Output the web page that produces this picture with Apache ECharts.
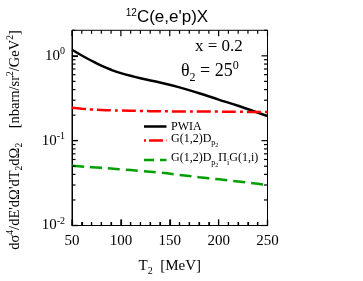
<!DOCTYPE html>
<html><head><meta charset="utf-8">
<script src="https://cdn.jsdelivr.net/npm/echarts@6/dist/echarts.min.js"></script>
<style>html,body{margin:0;padding:0;background:#fff}#c{width:363px;height:281px}</style>
</head><body><div id="c"></div>
<script>
const T = [50, 60, 70, 80, 90, 100, 120, 140, 160, 180, 200, 220, 240, 250];
const pwia = [1.18, 1.01, 0.875, 0.765, 0.685, 0.625, 0.545, 0.485, 0.425, 0.362, 0.305, 0.258, 0.214, 0.195];
const gD = [0.245, 0.238, 0.233, 0.23, 0.228, 0.227, 0.224, 0.222, 0.221, 0.22, 0.22, 0.219, 0.218, 0.218];
const gDPi = [0.0505, 0.0496, 0.0487, 0.0478, 0.0469, 0.046, 0.044, 0.042, 0.0395, 0.037, 0.035, 0.033, 0.031, 0.030];
const xMajor = [50, 100, 150, 200, 250];
const xMinor = [60,70,80,90,110,120,130,140,160,170,180,190,210,220,230,240];
const yMajor = [0.01, 0.1, 1];
const yMinor = [0.02,0.03,0.04,0.05,0.06,0.07,0.08,0.09,0.2,0.3,0.4,0.5,0.6,0.7,0.8,0.9,2];
const legendNames = ['PWIA', 'G(1,2)D_p2', 'G(1,2)D_p2 Π_i G(1,i)'];

const serif = 'Liberation Serif';
const chart = echarts.init(document.getElementById('c'), null, {renderer:'canvas'});
const colors = ['#000000', '#ff0000', '#00a000'];
const dashes = [null, [2,3,14,3], [10,6]];
const legY = [126.5, 140.5, 160];
const legText = [
  '{t|PWIA}',
  '{t|G(1,2)D}{sb|p}{ss|2}',
  '{t|G(1,2)D}{sb|p}{ss|2}{t|Π}{sb|i}{t|G(1,i)}'
];
const legRich = {
  t:{fontFamily:serif, fontSize:12, fill:'#000', lineHeight:14},
  sb:{fontFamily:serif, fontSize:8, fill:'#000', padding:[9,0,0,0], lineHeight:14},
  ss:{fontFamily:serif, fontSize:6, fill:'#000', padding:[14,0,0,0], lineHeight:14}
};

chart.setOption({
  animation:false,
  backgroundColor:'#fff',
  title:{text:'{s|12}{t|C(e,e\'p)X}', left:162, top:2, textAlign:'center',
    textStyle:{fontWeight:'normal', rich:{s:{fontFamily:'Liberation Sans', fontSize:10, fontWeight:'normal', padding:[0,0,7,0], lineHeight:20, color:'#000'},
                     t:{fontFamily:'Liberation Sans', fontSize:17, fontWeight:'normal', lineHeight:20, color:'#000'}}}},
  grid:{left:72, right:95.5, top:30.3, bottom:53.3, show:true, borderColor:'#000', borderWidth:1, backgroundColor:'transparent'},
  xAxis:{type:'value', min:50, max:250, interval:50, splitLine:{show:false},
    axisLine:{show:true, lineStyle:{color:'#000', width:1}},
    axisTick:{show:true, inside:true, length:6, lineStyle:{color:'#000', width:1.2}},
    minorTick:{show:true, splitNumber:5, length:3.5, lineStyle:{color:'#000', width:1.2}},
    axisLabel:{show:true, fontFamily:serif, fontSize:15, color:'#000', margin:8},
    name:'{t|T}{s|2}{t|  [MeV]}', nameLocation:'middle', nameGap:32,
    nameTextStyle:{rich:{t:{fontFamily:serif, fontSize:15, color:'#000', lineHeight:18},
                         s:{fontFamily:serif, fontSize:10, color:'#000', padding:[9,0,0,0], lineHeight:18}}}},
  yAxis:{type:'log', min:0.01, max:2, logBase:10, splitLine:{show:false},
    axisLine:{show:true, lineStyle:{color:'#000', width:1}},
    axisTick:{show:true, inside:true, length:6, customValues:yMajor, lineStyle:{color:'#000', width:1.2}},
    axisLabel:{show:true, margin:7, formatter:function(v){
        const e = Math.log10(v);
        if (Math.abs(e - Math.round(e)) > 1e-6) return '';
        return '{b|10}{s|' + Math.round(e) + '}';
      },
      rich:{b:{fontFamily:serif, fontSize:15, color:'#000', lineHeight:18},
            s:{fontFamily:serif, fontSize:10, color:'#000', padding:[0,0,9,0], lineHeight:18}}}},
  series:[
    {name:legendNames[0], type:'line', symbol:'none', smooth:0.4, data:T.map((t,i)=>[t,pwia[i]]),
      lineStyle:{color:colors[0], width:2.5}},
    {name:legendNames[1], type:'line', symbol:'none', smooth:0.4, data:T.map((t,i)=>[t,gD[i]]),
      lineStyle:{color:colors[1], width:2.5, type:[14,4,3,4]}},
    {name:legendNames[2], type:'line', symbol:'none', smooth:0.4, data:T.map((t,i)=>[t,gDPi[i]]),
      lineStyle:{color:colors[2], width:2.5, type:[12,6]}}
  ]
});

// ticks on all four sides, placed through the chart's own scales
const px = v => chart.convertToPixel({xAxisIndex:0}, v);
const py = v => chart.convertToPixel({yAxisIndex:0}, v);
const xL = px(50), xR = px(250), yB = py(0.01), yT = py(2);
const graphics = [];
const tick = (x1,y1,x2,y2) => graphics.push({type:'line', z:50, shape:{x1,y1,x2,y2}, style:{stroke:'#000', lineWidth:1.2}});
xMajor.forEach(v => { const x = px(v); tick(x, yB, x, yB-6); tick(x, yT, x, yT+6); });
xMinor.forEach(v => { const x = px(v); tick(x, yB, x, yB-3.5); tick(x, yT, x, yT+3.5); });
yMajor.forEach(v => { const y = py(v); tick(xL, y, xL+6, y); tick(xR, y, xR-6, y); });
yMinor.forEach(v => { const y = py(v); tick(xL, y, xL+3.5, y); tick(xR, y, xR-3.5, y); });

legendNames.forEach((n, i) => {
  graphics.push({type:'line', shape:{x1:144, y1:legY[i], x2:166.5, y2:legY[i]},
    style:{stroke:colors[i], lineWidth:2.5, lineDash:dashes[i]}});
  graphics.push({type:'text', x:171, y:legY[i] - (i===0 ? 0 : 2), style:{text:legText[i], rich:legRich, verticalAlign:'middle'}});
});
graphics.push({type:'text', x:195, y:38, style:{text:'x = 0.2', font:'17px "Liberation Serif"', fill:'#000'}});
graphics.push({type:'text', x:181, y:60, style:{text:'{t|θ}{s|2}{t| = 25}{p|0}',
  rich:{t:{fontFamily:serif, fontSize:18, fill:'#000', lineHeight:22},
        s:{fontFamily:serif, fontSize:12, fill:'#000', padding:[13,0,0,0], lineHeight:22},
        p:{fontFamily:serif, fontSize:12, fill:'#000', padding:[0,0,11,0], lineHeight:22}}}});
graphics.push({type:'text', x:15, y:140, rotation:Math.PI/2,
  style:{text:'{t|dσ}{p|4}{t|/dE\'dΩ\'dT}{s|2}{t|dΩ}{s|2}{t|    [nbarn/sr}{p|2}{t|/GeV}{p|2}{t|]}',
    align:'center', verticalAlign:'middle',
    rich:{t:{fontFamily:serif, fontSize:14.5, fill:'#000', lineHeight:18},
      p:{fontFamily:serif, fontSize:9.5, fill:'#000', padding:[0,0,9,0], lineHeight:18},
      s:{fontFamily:serif, fontSize:9.5, fill:'#000', padding:[9,0,0,0], lineHeight:18}}}});
chart.setOption({graphic:graphics});
</script></body></html>
